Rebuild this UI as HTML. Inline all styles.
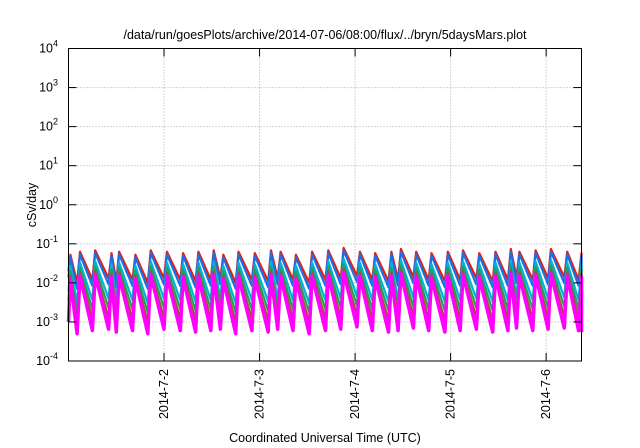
<!DOCTYPE html>
<html><head><meta charset="utf-8"><style>
body{margin:0;background:#fff}
svg{display:block;font-family:"Liberation Sans",sans-serif}
</style></head><body>
<svg id="chart" width="640" height="448" viewBox="0 0 640 448" xmlns="http://www.w3.org/2000/svg">
<text x="325" y="39" font-size="12.5" text-anchor="middle">/data/run/goesPlots/archive/2014-07-06/08:00/flux/../bryn/5daysMars.plot</text>
<g id="grid"></g>
<g id="series"></g>
<rect x="68.5" y="48.5" width="513" height="312.5" fill="none" stroke="#000" stroke-width="1"/>
<g id="axes"></g>
<text transform="translate(36,205) rotate(-90)" font-size="12.5" text-anchor="middle">cSv/day</text>
<text x="325" y="442" font-size="12.5" text-anchor="middle">Coordinated Universal Time (UTC)</text>
</svg>
<script>
// data
const xTickLabels = ["2014-7-2","2014-7-3","2014-7-4","2014-7-5","2014-7-6"];
const xTickDays = [1,2,3,4,5];
const yTickExps = [4,3,2,1,0,-1,-2,-3,-4];
// peak times in days since 2014-7-1 00:00
const peakTimes = [0.02,0.12,0.28,0.45,0.53,0.70,0.86,1.03,1.20,1.36,1.52,1.62,1.78,1.95,2.12,2.22,2.38,2.55,2.72,2.88,3.05,3.21,3.38,3.48,3.64,3.80,3.97,4.13,4.30,4.47,4.63,4.72,4.89,5.05,5.22,5.37];
const peakVals = [0.05,0.06,0.065,0.055,0.06,0.05,0.065,0.06,0.055,0.06,0.065,0.05,0.06,0.055,0.065,0.06,0.05,0.06,0.065,0.075,0.06,0.055,0.06,0.07,0.06,0.055,0.06,0.065,0.055,0.06,0.07,0.06,0.065,0.07,0.06,0.055];
const seriesNames = ["red","blue","cyan","green","brown","magenta"];
const seriesColors = ["#e51e10","#1e6ee6","#00b4d8","#20a060","#a0522d","#ff00ff"];
const seriesPeakScale = [1.05,0.9,0.55,0.4,0.3,0.25];
const seriesTroughScale = [0.2,0.14,0.06,0.035,0.02,0.01];

const X0=68.5,X1=581.5,Y0=48.5,Y1=361;
const D0=0,D1=5.37;
const xs=d=>X0+(d-D0)/(D1-D0)*(X1-X0);
const ys=v=>Y1-(Math.log10(v)+4)/8*(Y1-Y0);
const NS="http://www.w3.org/2000/svg";
function mk(tag,attrs,parent){const e=document.createElementNS(NS,tag);for(const k in attrs)e.setAttribute(k,attrs[k]);parent.appendChild(e);return e;}
const grid=document.getElementById('grid'),axes=document.getElementById('axes'),ser=document.getElementById('series');
yTickExps.forEach(ex=>{
  const y=ys(Math.pow(10,ex));
  if(ex>-4&&ex<4){const g=mk('line',{x1:X0,x2:X1,y1:y,y2:y,stroke:'#aaa','stroke-dasharray':'1,2','stroke-width':1},grid);
  
  }
  mk('line',{x1:X0,x2:X0+8,y1:y,y2:y,stroke:'#000'},axes);
  mk('line',{x1:X1-8,x2:X1,y1:y,y2:y,stroke:'#000'},axes);
  const t=mk('text',{x:58,y:y+4,'font-size':12.5,'text-anchor':'end'},axes);
  
  
  t.textContent='10';
  const s=mk('tspan',{dy:-6,'font-size':9},t);s.textContent=ex;
});
xTickDays.forEach((d,i)=>{
  const x=xs(d);
  const g=mk('line',{x1:x,x2:x,y1:Y0,y2:Y1,stroke:'#aaa','stroke-dasharray':'1,2','stroke-width':1},grid);
  
  
  mk('line',{x1:x,x2:x,y1:Y1,y2:Y1-8,stroke:'#000'},axes);
  mk('line',{x1:x,x2:x,y1:Y0,y2:Y0+8,stroke:'#000'},axes);
  const t=mk('text',{transform:`translate(${x+4},${Y1+8}) rotate(-90)`,'font-size':12.5,'text-anchor':'end'},axes);
  
  
  t.textContent=xTickLabels[i];
});
seriesNames.forEach((nm,si)=>{
  let pts=[];
  for(let i=0;i<peakTimes.length;i++){
    const pv=peakVals[i]*seriesPeakScale[si];
    const tv=peakVals[i]*seriesTroughScale[si];
    const tp=peakTimes[i];
    const tn=i+1<peakTimes.length?peakTimes[i+1]:D1+0.1;
    if(i===0)pts.push([Math.max(D0,tp-0.03),tv*2]);
    pts.push([tp,pv]);
    pts.push([tn-0.03,tv]);
  }
  const d=pts.map((p,k)=>(k?'L':'M')+xs(Math.min(p[0],D1)).toFixed(1)+','+ys(p[1]).toFixed(1)).join('');
  const p=mk('path',{d:d,fill:'none',stroke:seriesColors[si],'stroke-width':si===5?3.5:2.2,'stroke-linejoin':'round'},ser);
  
  
});
</script>
</body></html>
